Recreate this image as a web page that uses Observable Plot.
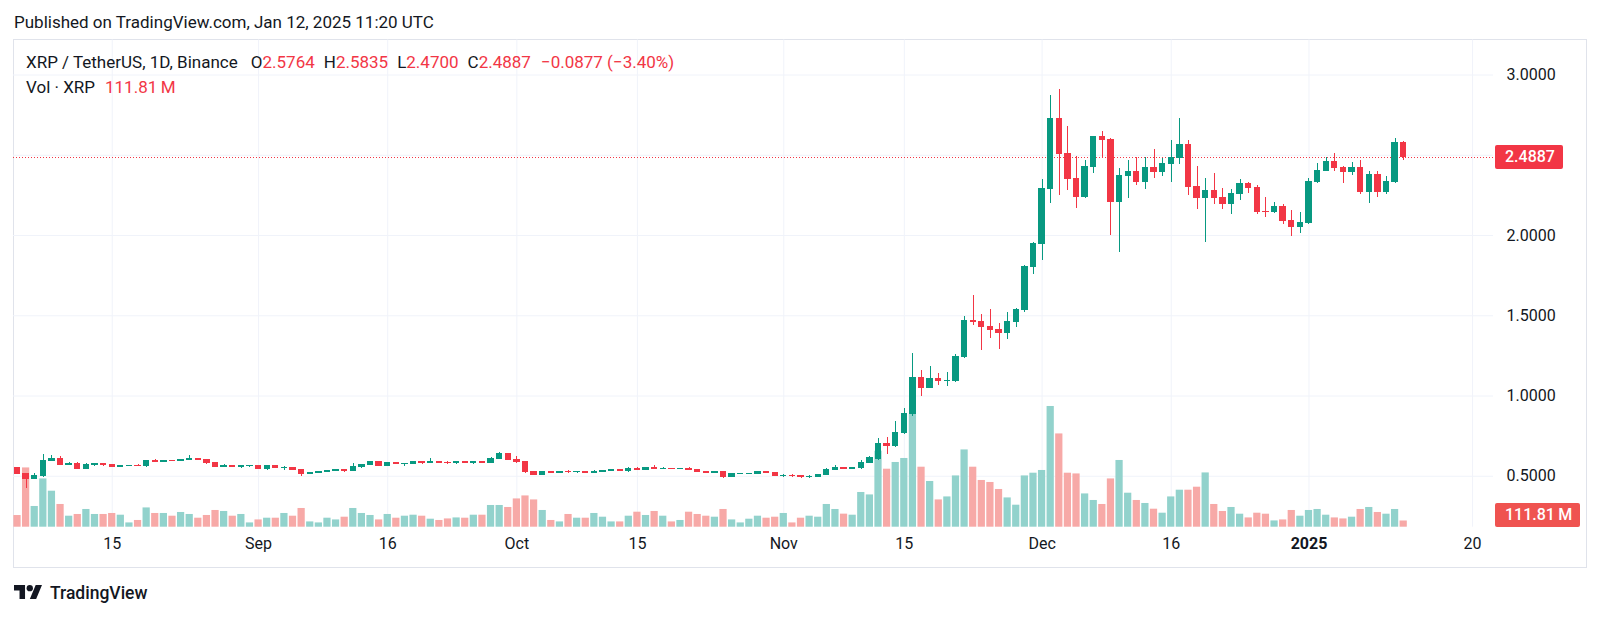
<!DOCTYPE html>
<html>
<head>
<meta charset="utf-8">
<script src="https://cdn.jsdelivr.net/npm/d3@7"></script>
<script src="https://cdn.jsdelivr.net/npm/@observablehq/plot@0.6"></script>
<style>
html,body{margin:0;padding:0;background:#fff;overflow:hidden}
body{font-family:Roboto,"Noto Sans",sans-serif;color:#131722}
#wrap{position:relative;width:1600px;height:618px}
.layer{position:absolute;left:0;top:0}
.layer svg{display:block}
#candles line,#candles rect{shape-rendering:crispEdges}
#frame{position:absolute;left:13px;top:39px;width:1574px;height:529px;box-sizing:border-box;border:1px solid #e0e3eb}
.txt{position:absolute;white-space:nowrap}
#pub{left:14px;top:11px;font-size:17px;line-height:22px}
#leg1{left:26px;top:51px;font-size:17px;line-height:22px}
#leg2{left:26px;top:76px;font-size:17px;line-height:22px}
.red{color:#f23645}
.lbl{position:absolute;color:#fff;font-weight:500;font-size:16px;line-height:24px;height:24px;border-radius:2px;box-sizing:border-box;padding-left:10px;white-space:nowrap}
#brand{left:50px;top:582px;font-size:17.5px;font-weight:500;line-height:22px}
</style>
</head>
<body>
<div id="wrap">
  <div id="pub" class="txt">Published on TradingView.com, Jan 12, 2025 11:20 UTC</div>
  <div id="frame"></div>
  <div id="grid" class="layer"></div>
  <div id="vol" class="layer"></div>
  <div id="candles" class="layer"></div>
  <div id="leg1" class="txt"></div>
  <div id="leg2" class="txt"></div>
  <svg class="txt" style="left:14px;top:585px" width="28" height="14.2" viewBox="0 4 35.5 18"><path fill="#131722" d="M14 22H7V11H0V4h14v18zM28 22h-8l7.5-18h8L28 22z"/><circle fill="#131722" cx="20" cy="8" r="4"/></svg>
  <div id="brand" class="txt">TradingView</div>
</div>
<script>
// ---- data (XRP/USDT daily, Binance, 2024-08-04 .. 2025-01-12) ----
const symbol = "XRP / TetherUS, 1D, Binance";
const volLabel = "Vol · XRP";
const firstDay = "2024-08-04";
const opens = [
0.550,0.515,0.484,0.499,0.596,0.610,0.571,0.575,0.546,0.569,
0.575,0.568,0.558,0.561,0.566,0.561,0.594,0.591,0.598,0.595,
0.604,0.607,0.599,0.580,0.559,0.563,0.557,0.561,0.563,0.543,
0.561,0.552,0.553,0.538,0.513,0.520,0.527,0.534,0.538,0.535,
0.556,0.569,0.590,0.566,0.582,0.577,0.579,0.586,0.581,0.591,
0.582,0.580,0.587,0.580,0.588,0.585,0.610,0.637,0.602,0.588,
0.525,0.510,0.527,0.523,0.529,0.524,0.527,0.520,0.527,0.534,
0.536,0.530,0.548,0.540,0.549,0.545,0.548,0.545,0.547,0.540,
0.528,0.522,0.528,0.496,0.512,0.514,0.516,0.527,0.522,0.502,
0.504,0.500,0.494,0.498,0.510,0.541,0.550,0.547,0.551,0.585,
0.608,0.700,0.690,0.768,0.887,1.115,1.049,1.107,1.094,1.095,
1.240,1.468,1.460,1.431,1.410,1.392,1.464,1.535,1.801,1.948,
2.291,2.725,2.507,2.351,2.237,2.428,2.613,2.598,2.208,2.368,
2.393,2.333,2.420,2.393,2.445,2.482,2.565,2.305,2.233,2.278,
2.233,2.197,2.260,2.322,2.295,2.149,2.145,2.180,2.091,2.056,
2.077,2.332,2.403,2.457,2.419,2.394,2.419,2.270,2.374,2.270,
2.336,2.5764];
const highs = [
0.556,0.520,0.515,0.634,0.632,0.623,0.585,0.583,0.578,0.582,
0.580,0.572,0.566,0.569,0.572,0.598,0.603,0.601,0.601,0.607,
0.629,0.611,0.601,0.583,0.572,0.570,0.566,0.565,0.566,0.563,
0.565,0.558,0.557,0.540,0.523,0.530,0.537,0.541,0.543,0.581,
0.573,0.592,0.592,0.587,0.588,0.582,0.590,0.590,0.610,0.595,
0.592,0.591,0.592,0.592,0.594,0.615,0.650,0.643,0.620,0.592,
0.530,0.531,0.531,0.532,0.537,0.531,0.532,0.538,0.537,0.540,
0.538,0.552,0.552,0.553,0.567,0.552,0.550,0.551,0.556,0.545,
0.532,0.531,0.532,0.515,0.517,0.518,0.531,0.530,0.526,0.510,
0.508,0.503,0.502,0.514,0.548,0.568,0.556,0.555,0.601,0.620,
0.733,0.742,0.841,0.924,1.267,1.157,1.184,1.143,1.149,1.256,
1.495,1.626,1.506,1.537,1.454,1.522,1.547,1.813,1.954,2.347,
2.872,2.908,2.679,2.492,2.465,2.619,2.648,2.607,2.420,2.465,
2.486,2.486,2.536,2.478,2.590,2.731,2.590,2.430,2.357,2.389,
2.291,2.285,2.351,2.332,2.311,2.237,2.205,2.195,2.153,2.145,
2.353,2.450,2.486,2.513,2.430,2.457,2.467,2.400,2.400,2.367,
2.606,2.5835];
const lows = [
0.510,0.426,0.478,0.490,0.590,0.565,0.568,0.543,0.540,0.560,
0.562,0.552,0.552,0.558,0.558,0.555,0.585,0.585,0.590,0.590,
0.600,0.596,0.575,0.552,0.553,0.553,0.550,0.557,0.540,0.538,
0.547,0.537,0.533,0.498,0.510,0.515,0.522,0.529,0.526,0.532,
0.550,0.566,0.562,0.560,0.574,0.560,0.575,0.575,0.577,0.577,
0.574,0.575,0.577,0.576,0.580,0.583,0.605,0.598,0.580,0.518,
0.505,0.505,0.519,0.519,0.520,0.518,0.517,0.516,0.524,0.530,
0.527,0.526,0.535,0.536,0.540,0.540,0.542,0.541,0.537,0.525,
0.518,0.518,0.485,0.493,0.508,0.508,0.510,0.518,0.498,0.495,
0.495,0.489,0.485,0.493,0.505,0.538,0.542,0.545,0.545,0.577,
0.598,0.638,0.680,0.760,0.872,0.997,1.045,1.066,1.060,1.085,
1.232,1.440,1.281,1.356,1.288,1.350,1.427,1.522,1.759,1.844,
2.202,2.249,2.280,2.170,2.229,2.389,2.482,2.000,1.896,2.233,
2.310,2.285,2.357,2.368,2.333,2.445,2.249,2.160,1.959,2.191,
2.160,2.133,2.216,2.263,2.133,2.112,2.139,2.070,1.993,2.014,
2.070,2.326,2.400,2.400,2.326,2.371,2.257,2.201,2.239,2.253,
2.326,2.4700];
const closes = [
0.515,0.484,0.499,0.596,0.608,0.571,0.575,0.546,0.569,0.575,
0.568,0.558,0.561,0.566,0.561,0.594,0.591,0.598,0.595,0.604,
0.607,0.599,0.580,0.559,0.563,0.557,0.561,0.563,0.543,0.561,
0.552,0.553,0.538,0.513,0.520,0.527,0.534,0.538,0.535,0.556,
0.569,0.590,0.566,0.582,0.577,0.579,0.586,0.581,0.591,0.582,
0.580,0.587,0.580,0.588,0.585,0.610,0.637,0.602,0.588,0.525,
0.510,0.527,0.523,0.529,0.524,0.527,0.520,0.527,0.534,0.536,
0.530,0.548,0.540,0.549,0.545,0.548,0.545,0.547,0.540,0.528,
0.522,0.528,0.496,0.512,0.514,0.516,0.527,0.522,0.502,0.504,
0.500,0.494,0.498,0.510,0.541,0.550,0.547,0.551,0.585,0.612,
0.700,0.690,0.768,0.887,1.115,1.049,1.107,1.094,1.095,1.240,
1.468,1.460,1.431,1.410,1.392,1.464,1.535,1.801,1.948,2.291,
2.725,2.507,2.351,2.237,2.428,2.613,2.598,2.208,2.368,2.393,
2.333,2.420,2.393,2.445,2.482,2.565,2.305,2.233,2.278,2.233,
2.197,2.260,2.322,2.295,2.149,2.145,2.180,2.091,2.056,2.077,
2.332,2.403,2.457,2.419,2.394,2.419,2.270,2.374,2.270,2.336,
2.5764,2.4887];
// volume in millions of XRP
const volumes = [
210,1067,373,869,648,409,198,229,319,229,
229,247,216,77,121,347,247,247,198,265,
229,162,211,301,283,198,229,77,131,162,
162,247,198,337,95,77,162,131,180,337,
247,211,131,229,162,198,216,198,144,121,
149,167,162,216,216,391,391,355,509,563,
491,301,121,95,229,162,162,247,180,95,
95,198,270,211,283,198,95,121,270,229,
198,180,319,131,77,144,198,162,180,247,
77,162,198,180,409,319,235,216,625,581,
1368,1044,1165,1237,2034,1080,823,491,545,923,
1391,1080,841,805,679,527,396,923,972,1021,
2173,1679,972,959,599,481,409,869,1201,612,
481,427,324,252,545,666,666,720,977,409,
283,355,234,167,252,234,113,131,301,198,
301,319,216,167,149,180,319,355,265,234,
319,111.81];
const priceGridTicks = [0.5,1.0,1.5,2.0,2.5,3.0];
const priceLabelTicks = [0.5,1.0,1.5,2.0,3.0];
const timeTickDates = ["2024-08-15","2024-09-01","2024-09-16","2024-10-01","2024-10-15","2024-11-01","2024-11-15","2024-12-01","2024-12-16","2025-01-01","2025-01-20"];
const timeTickLabels = ["15","Sep","16","Oct","15","Nov","15","Dec","16","2025","20"];
const timeTickBold = [false,false,false,false,false,false,false,false,false,true,false];

// ---- build ----
const GREEN="#089981", RED="#f23645", VGREEN="#92d2cc", VRED="#f7a9a7", GRID="#f0f3fa", VLABEL="#ef5350";
const DAY = 864e5;
const start = new Date(firstDay + "T00:00:00Z");
const days = d3.utcDay.range(start, d3.utcDay.offset(start, opens.length));
const data = days.map((date,i)=>({date,o:opens[i],h:highs[i],l:lows[i],c:closes[i],v:volumes[i],up:closes[i]>=opens[i]}));
const timeTicks = timeTickDates.map((s,i)=>({date:new Date(s+"T00:00:00Z"),label:timeTickLabels[i],bold:timeTickBold[i]}));
const shift = (d,f)=>new Date(+d + f*DAY);

const W=1600, H=618;
const xScale = {type:"utc", domain:[new Date("2024-08-03T12:51:00Z"), new Date("2025-01-22T10:20:00Z")], axis:null};
const priceMargins = {marginLeft:13, marginRight:107, marginTop:74.5, marginBottom:142.25};
const volMargins = {marginLeft:13, marginRight:107, marginTop:39.5, marginBottom:91.3};
const style = {background:"transparent", fontFamily:"Roboto, sans-serif", fontSize:"16px", color:"#131722", overflow:"visible"};

const gridPlot = Plot.plot({
  width:W, height:H, ...priceMargins, style,
  x:xScale, y:{domain:[0.5,3.0]},
  marks:[
    Plot.ruleY(priceGridTicks,{stroke:GRID}),
    Plot.axisY({anchor:"right", ticks:priceLabelTicks, tickSize:0, tickPadding:13, tickFormat:d=>d.toFixed(4), label:null})
  ]
});
document.getElementById("grid").appendChild(gridPlot);

const volPlot = Plot.plot({
  width:W, height:H, ...volMargins, style,
  x:xScale, y:{domain:[0,8770], axis:null},
  marks:[
    Plot.ruleX(timeTicks,{x:"date", stroke:GRID}),
    Plot.rect(data,{x1:d=>shift(d.date,-0.42), x2:d=>shift(d.date,0.42), y1:0, y2:"v", fill:d=>d.up?VGREEN:VRED}),
    Plot.text(timeTicks.filter(t=>!t.bold),{x:"date", text:"label", frameAnchor:"bottom", dy:22, fill:"#131722"}),
    Plot.text(timeTicks.filter(t=>t.bold),{x:"date", text:"label", frameAnchor:"bottom", dy:22, fill:"#131722", fontWeight:"bold"})
  ]
});
document.getElementById("vol").appendChild(volPlot);

const last = data[data.length-1], prev = data[data.length-2];
const col = d=>d.up?GREEN:RED;
const candlePlot = Plot.plot({
  width:W, height:H, ...priceMargins, style,
  x:xScale, y:{domain:[0.5,3.0], axis:null},
  marks:[
    Plot.ruleY([last.c],{stroke:RED, strokeDasharray:"1,2"}),
    Plot.ruleX(data,{x:"date", y1:"l", y2:"h", stroke:col}),
    Plot.rect(data,{x1:d=>shift(d.date,-0.31), x2:d=>shift(d.date,0.31), y1:"o", y2:"c", fill:col, stroke:col, strokeWidth:1})
  ]
});
document.getElementById("candles").appendChild(candlePlot);

// legend
const f4 = v=>v.toFixed(4).replace("-","\u2212");
const chg = last.c - prev.c, pct = chg/prev.c*100;
document.getElementById("leg1").innerHTML =
  `${symbol}<span style="margin-left:13px">O</span><span class="red">${f4(last.o)}</span>` +
  `<span style="margin-left:9px">H</span><span class="red">${f4(last.h)}</span>` +
  `<span style="margin-left:9px">L</span><span class="red">${f4(last.l)}</span>` +
  `<span style="margin-left:9px">C</span><span class="red">${f4(last.c)}</span>` +
  `<span class="red" style="margin-left:10px">${f4(chg)} (${pct.toFixed(2).replace("-","\u2212")}%)</span>`;
document.getElementById("leg2").innerHTML = `${volLabel}<span class="red" style="margin-left:10px">${last.v.toFixed(2)}\u2009M</span>`;

// price-scale labels
const wrap = document.getElementById("wrap");
const yP = candlePlot.scale("y").apply(last.c);
const pl = document.createElement("div");
pl.className="lbl"; pl.style.cssText=`left:1495px;top:${yP-12}px;width:68px;background:${RED}`;
pl.textContent = last.c.toFixed(4);
wrap.appendChild(pl);
const vScale = volPlot.scale("y");
const yV = Math.min(vScale.apply(last.v)-12, vScale.apply(0)-24);
const vl = document.createElement("div");
vl.className="lbl"; vl.style.cssText=`left:1495px;top:${yV}px;width:85px;background:${VLABEL}`;
vl.textContent = `${last.v.toFixed(2)}\u2009M`;
wrap.appendChild(vl);
</script>
</body>
</html>
